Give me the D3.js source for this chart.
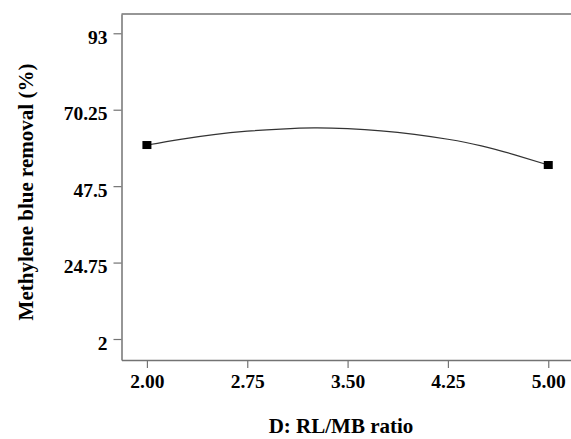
<!DOCTYPE html>
<html>
<head>
<meta charset="utf-8">
<script src="https://cdn.jsdelivr.net/npm/d3@7"></script>
<style>
    html, body { margin: 0; padding: 0; background: #ffffff; }
    svg { display: block; }
</style>
</head>
<body>
<div id="chart"></div>
<script>
// curve
const ratioLevels = [2.00, 2.25, 2.50, 2.75, 3.00, 3.25, 3.50, 3.75, 4.00, 4.25, 4.50, 4.75, 5.00];
const removalCurve = [59.74, 61.44, 62.85, 63.85, 64.50, 64.85, 64.62, 63.98, 62.92, 61.45, 59.50, 56.80, 53.79];

// design points (square markers)
const pointRatios = [2.00, 5.00];
const pointRemoval = [59.74, 53.79];

const xTickValues = [2.00, 2.75, 3.50, 4.25, 5.00];
const xTickLabels = ["2.00", "2.75", "3.50", "4.25", "5.00"];
const yTickValues = [2, 24.75, 47.5, 70.25, 93];
const yTickLabels = ["2", "24.75", "47.5", "70.25", "93"];

function drawChart() {
    const width = 571;
    const height = 439;
    const left = 121.5, right = 571, top = 14, bottom = 360;
    const fontFamily = "'Liberation Serif', 'Times New Roman', serif";
    const axisColor = "#737373";

    const svg = d3.select("#chart")
        .append("svg")
        .attr("width", width)
        .attr("height", height);

    const x = d3.scaleLinear().domain([1.81, 5.17]).range([left, right]);
    const y = d3.scaleLinear().domain([-4.25, 98.74]).range([bottom, top]);

    // top border
    svg.append("line")
        .attr("x1", left).attr("x2", right)
        .attr("y1", top).attr("y2", top)
        .style("stroke", axisColor)
        .style("stroke-width", 1.5);

    const yAxis = svg.append("g")
        .attr("transform", `translate(${left},0)`)
        .call(d3.axisLeft(y)
            .tickValues(yTickValues)
            .tickFormat((d, i) => yTickLabels[i])
            .tickSize(8)
            .tickSizeOuter(0)
            .tickPadding(6));

    const xAxis = svg.append("g")
        .attr("transform", `translate(0,${bottom})`)
        .call(d3.axisBottom(x)
            .tickValues(xTickValues)
            .tickFormat((d, i) => xTickLabels[i])
            .tickSize(8)
            .tickSizeOuter(0));

    [xAxis, yAxis].forEach(g => {
        g.select(".domain").style("stroke", axisColor).style("stroke-width", 1.5);
        g.selectAll(".tick line").style("stroke", axisColor).style("stroke-width", 1.2);
        g.selectAll("text")
            .style("font-family", fontFamily)
            .style("font-size", "19.5px")
            .style("font-weight", "700")
            .style("fill", "#000000");
    });

    yAxis.selectAll("text").attr("dy", "0.52em");
    xAxis.selectAll("text").attr("y", 28).attr("dy", 0);

    const curveData = ratioLevels.map((r, i) => ({ x: r, y: removalCurve[i] }));

    const line = d3.line()
        .x(d => x(d.x))
        .y(d => y(d.y))
        .curve(d3.curveNatural);

    svg.append("path")
        .datum(curveData)
        .attr("d", line)
        .style("fill", "none")
        .style("stroke", "#333333")
        .style("stroke-width", 1.2);

    const markerW = 9, markerH = 8;
    svg.selectAll(".design-point")
        .data(pointRatios.map((r, i) => ({ x: r, y: pointRemoval[i] })))
        .enter()
        .append("rect")
        .attr("class", "design-point")
        .attr("x", d => x(d.x) - markerW / 2)
        .attr("y", d => y(d.y) - markerH / 2)
        .attr("width", markerW)
        .attr("height", markerH)
        .style("fill", "#000000");

    svg.append("text")
        .attr("x", 341)
        .attr("y", 433)
        .attr("text-anchor", "middle")
        .style("font-family", fontFamily)
        .style("font-size", "21px")
        .style("font-weight", "700")
        .text("D: RL/MB ratio");

    svg.append("text")
        .attr("transform", "translate(33,192) rotate(-90)")
        .attr("text-anchor", "middle")
        .style("font-family", fontFamily)
        .style("font-size", "21px")
        .style("font-weight", "700")
        .text("Methylene blue removal (%)");
}

drawChart();
</script>
</body>
</html>
